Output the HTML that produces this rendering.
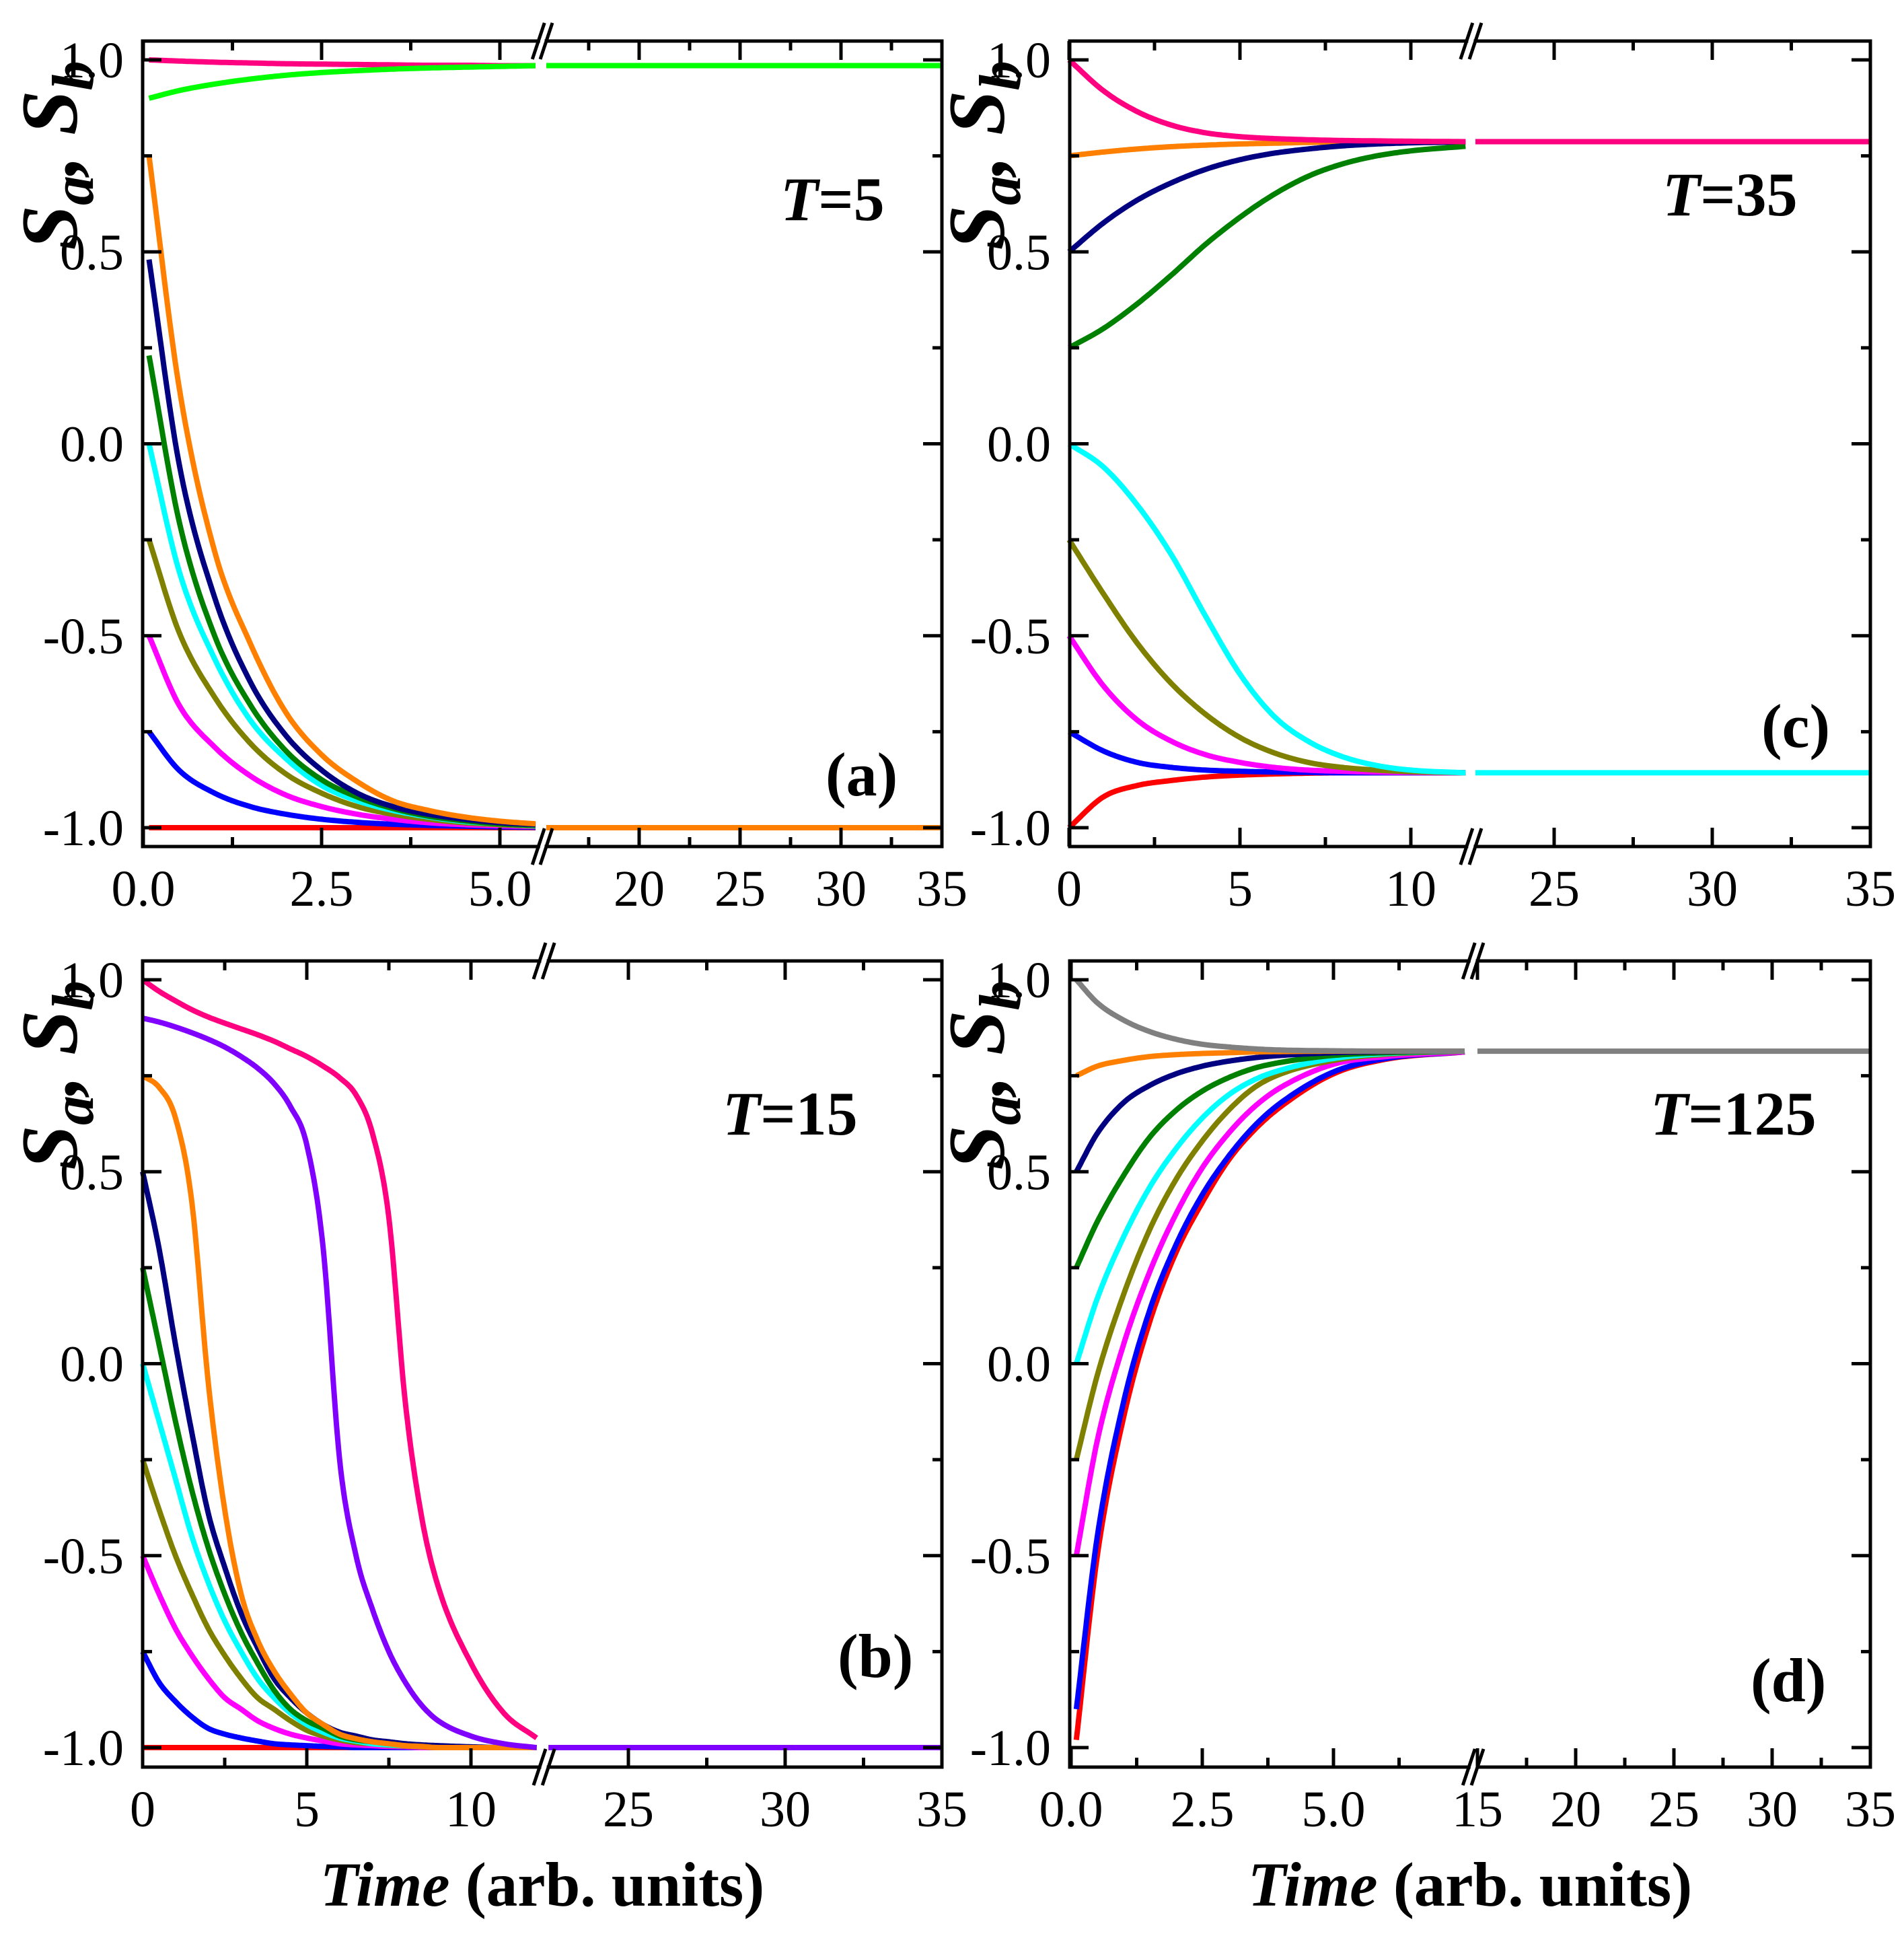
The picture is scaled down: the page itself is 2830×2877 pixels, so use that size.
<!DOCTYPE html>
<html><head><meta charset="utf-8"><title>Sa Sb relaxation</title>
<style>
html,body{margin:0;padding:0;background:#fff;}
svg{display:block;}
text{font-family:"Liberation Serif",serif;fill:#000;}
</style></head>
<body>
<svg id="fig" width="2830" height="2877" viewBox="0 0 2830 2877" xmlns="http://www.w3.org/2000/svg"></svg>
<script>
// ---------- DATA ----------
const yTickValues = [-1, -0.5, 0, 0.5, 1];
const yTickLabels = ['-1.0', '-0.5', '0.0', '0.5', '1.0'];
const yMinorTicks = [-0.75, -0.25, 0.25, 0.75];

// Panel (a) T=5
const aTimes = [0.08, 0.5, 1, 1.5, 2, 2.5, 3, 3.5, 4, 4.5, 5, 5.5];
const aRed = [-1, -1, -1, -1, -1, -1, -1, -1, -1, -1, -1, -1];
const aBlue = [-0.75, -0.85, -0.91, -0.945, -0.965, -0.978, -0.986, -0.991, -0.994, -0.996, -0.998, -0.999];
const aMagenta = [-0.5, -0.68, -0.79, -0.865, -0.915, -0.945, -0.965, -0.978, -0.987, -0.992, -0.995, -0.997];
const aOlive = [-0.25, -0.49, -0.66, -0.78, -0.86, -0.91, -0.945, -0.965, -0.978, -0.987, -0.992, -0.996];
const aCyan = [0.0, -0.33, -0.56, -0.72, -0.82, -0.89, -0.93, -0.955, -0.972, -0.984, -0.99, -0.995];
const aDkGreen = [0.23, -0.2, -0.5, -0.68, -0.8, -0.875, -0.92, -0.95, -0.97, -0.982, -0.99, -0.994];
const aNavy = [0.48, -0.05, -0.4, -0.62, -0.76, -0.85, -0.91, -0.945, -0.965, -0.978, -0.987, -0.992];
const aOrange = [0.75, 0.15, -0.28, -0.52, -0.7, -0.81, -0.88, -0.93, -0.955, -0.972, -0.983, -0.99];
const aPink = [1.0, 0.997, 0.994, 0.992, 0.99, 0.989, 0.988, 0.987, 0.986, 0.986, 0.985, 0.985];
const aGreen = [0.9, 0.92, 0.937, 0.95, 0.96, 0.967, 0.972, 0.976, 0.979, 0.981, 0.983, 0.985];
const aRightValues = [0.985, -1];
const aRightColors = ['green', 'orange'];

// Panel (b) T=15
const bTimes = [0, 0.5, 1, 1.5, 2, 2.5, 3, 3.5, 4, 4.5, 5, 5.5, 6, 6.5, 7, 7.5, 8, 8.5, 9, 10, 11, 12];
const bRed = [-1, -1, -1, -1, -1, -1, -1, -1, -1, -1, -1, -1, -1, -1, -1, -1, -1, -1, -1, -1, -1, -1];
const bBlue = [-0.75, -0.83, -0.88, -0.92, -0.95, -0.965, -0.975, -0.983, -0.99, -0.993, -0.995, -0.997, -0.998, -1, -1, -1, -1, -1, -1, -1, -1, -1];
const bMagenta = [-0.5, -0.6, -0.69, -0.76, -0.82, -0.87, -0.9, -0.93, -0.95, -0.965, -0.975, -0.983, -0.99, -0.993, -0.995, -0.997, -0.998, -1, -1, -1, -1, -1];
const bOlive = [-0.25, -0.38, -0.5, -0.6, -0.69, -0.76, -0.82, -0.87, -0.9, -0.93, -0.955, -0.97, -0.98, -0.987, -0.99, -0.994, -0.996, -0.998, -1, -1, -1, -1];
const bCyan = [0, -0.15, -0.3, -0.45, -0.57, -0.67, -0.75, -0.82, -0.87, -0.91, -0.94, -0.96, -0.975, -0.983, -0.99, -0.993, -0.995, -0.997, -0.998, -1, -1, -1];
const bDkGreen = [0.25, 0.05, -0.15, -0.33, -0.48, -0.6, -0.7, -0.78, -0.85, -0.9, -0.93, -0.95, -0.97, -0.98, -0.985, -0.99, -0.993, -0.995, -0.997, -1, -1, -1];
const bNavy = [0.5, 0.3, 0.05, -0.18, -0.39, -0.53, -0.65, -0.74, -0.82, -0.87, -0.91, -0.94, -0.96, -0.97, -0.98, -0.985, -0.99, -0.993, -0.995, -0.998, -1, -1];
const bOrange = [0.75, 0.72, 0.64, 0.42, -0.05, -0.38, -0.6, -0.72, -0.8, -0.86, -0.91, -0.94, -0.965, -0.977, -0.985, -0.99, -0.995, -0.997, -1, -1, -1, -1];
const bPink = [1, 0.97, 0.945, 0.922, 0.903, 0.887, 0.872, 0.857, 0.84, 0.82, 0.8, 0.775, 0.745, 0.7, 0.6, 0.38, -0.1, -0.4, -0.58, -0.78, -0.91, -0.975];
const bPurple = [0.9, 0.89, 0.877, 0.862, 0.845, 0.825, 0.8, 0.77, 0.73, 0.67, 0.57, 0.3, -0.25, -0.5, -0.64, -0.75, -0.83, -0.89, -0.93, -0.97, -0.99, -1];
const bRightValues = [-1];
const bRightColors = ['purple'];

// Panel (c) T=35
const cTimes = [0, 1, 2, 3, 4, 5, 6, 7, 8, 9, 10, 11.6];
const cOrange = [0.75, 0.76, 0.768, 0.774, 0.778, 0.781, 0.783, 0.785, 0.786, 0.787, 0.787, 0.787];
const cNavy = [0.5, 0.575, 0.635, 0.68, 0.715, 0.74, 0.757, 0.768, 0.776, 0.781, 0.784, 0.786];
const cDkGreen = [0.25, 0.3, 0.365, 0.44, 0.52, 0.59, 0.65, 0.697, 0.729, 0.75, 0.763, 0.775];
const cPink = [1, 0.92, 0.865, 0.83, 0.81, 0.8, 0.795, 0.792, 0.79, 0.789, 0.788, 0.787];
const cRed = [-1, -0.92, -0.89, -0.877, -0.868, -0.863, -0.86, -0.858, -0.857, -0.857, -0.857, -0.857];
const cBlue = [-0.75, -0.8, -0.83, -0.843, -0.85, -0.853, -0.855, -0.856, -0.857, -0.857, -0.857, -0.857];
const cMagenta = [-0.5, -0.63, -0.72, -0.775, -0.81, -0.83, -0.843, -0.85, -0.853, -0.855, -0.856, -0.857];
const cOlive = [-0.25, -0.39, -0.52, -0.625, -0.705, -0.765, -0.805, -0.83, -0.843, -0.85, -0.854, -0.857];
const cCyan = [0, -0.06, -0.16, -0.29, -0.45, -0.6, -0.71, -0.775, -0.815, -0.838, -0.85, -0.857];
const cRightValues = [0.787, -0.857];
const cRightColors = ['pink', 'cyan'];

// Panel (d) T=125
const dTimes = [0.1, 0.5, 1, 1.5, 2, 2.5, 3, 3.5, 4, 5, 6, 7.5];
const dRed = [-0.98, -0.5, -0.14, 0.11, 0.29, 0.42, 0.53, 0.61, 0.67, 0.755, 0.793, 0.812];
const dBlue = [-0.9, -0.45, -0.1, 0.14, 0.31, 0.44, 0.54, 0.62, 0.68, 0.76, 0.795, 0.812];
const dMagenta = [-0.5, -0.2, 0.05, 0.24, 0.39, 0.51, 0.6, 0.67, 0.72, 0.78, 0.8, 0.812];
const dOlive = [-0.25, -0.03, 0.18, 0.35, 0.48, 0.58, 0.66, 0.72, 0.755, 0.79, 0.806, 0.814];
const dCyan = [0, 0.17, 0.33, 0.46, 0.56, 0.64, 0.7, 0.74, 0.765, 0.795, 0.808, 0.814];
const dDkGreen = [0.25, 0.37, 0.49, 0.59, 0.66, 0.71, 0.745, 0.77, 0.785, 0.803, 0.81, 0.814];
const dNavy = [0.5, 0.6, 0.68, 0.725, 0.755, 0.775, 0.788, 0.797, 0.803, 0.81, 0.813, 0.814];
const dOrange = [0.75, 0.775, 0.79, 0.8, 0.805, 0.808, 0.81, 0.812, 0.813, 0.814, 0.814, 0.814];
const dGray = [1, 0.94, 0.895, 0.865, 0.845, 0.832, 0.825, 0.82, 0.817, 0.815, 0.814, 0.814];
const dRightValues = [0.814];
const dRightColors = ['gray'];

// x tick arrays
const aXMajor = [0, 2.5, 5, 20, 25, 30, 35];
const aXLabels = ['0.0', '2.5', '5.0', '20', '25', '30', '35'];
const aXMinor = [1.25, 3.75, 17.5, 22.5, 27.5, 32.5];
const bXMajor = [0, 5, 10, 25, 30, 35];
const bXLabels = ['0', '5', '10', '25', '30', '35'];
const bXMinor = [2.5, 7.5, 27.5, 32.5];
const cXMajor = [0, 5, 10, 25, 30, 35];
const cXLabels = ['0', '5', '10', '25', '30', '35'];
const cXMinor = [2.5, 7.5, 27.5, 32.5];
const dXMajor = [0, 2.5, 5, 15, 20, 25, 30, 35];
const dXLabels = ['0.0', '2.5', '5.0', '15', '20', '25', '30', '35'];
const dXMinor = [1.25, 3.75, 6.25, 17.5, 22.5, 27.5, 32.5];

// ---------- RENDER ----------
const NS = 'http://www.w3.org/2000/svg';
const svg = document.getElementById('fig');
function mk(tag, attrs, parent) {
  const e = document.createElementNS(NS, tag);
  for (const k in attrs) e.setAttribute(k, attrs[k]);
  (parent || svg).appendChild(e);
  return e;
}
const C = {red:'#ff0000', blue:'#0000ff', magenta:'#ff00ff', olive:'#808000', cyan:'#00ffff', dkgreen:'#008000', navy:'#000080', orange:'#ff8000', pink:'#ff0080', green:'#00ff00', purple:'#8000ff', gray:'#808080'};

const panels = [
  {id:'a', x0:212, x1:1400, y0:61, y1:1258, L:{t0:0, p0:213, k:106}, R:{t0:20, p0:950, k:30}, bL:5.54, bR:15.4,
   times:aTimes, major:aXMajor, labels:aXLabels, minor:aXMinor, T:'5', Tx:1160, Ty:327, lab:'(a)', lx:1227, ly:1182,
   rv:aRightValues, rc:aRightColors,
   series:[['red',aRed],['blue',aBlue],['magenta',aMagenta],['olive',aOlive],['cyan',aCyan],['dkgreen',aDkGreen],['navy',aNavy],['orange',aOrange],['pink',aPink],['green',aGreen]]},
  {id:'b', x0:212, x1:1400, y0:1428, y1:2626, L:{t0:0, p0:212, k:48.8}, R:{t0:25, p0:934, k:46.6}, bL:12.09, bR:22.45,
   times:bTimes, major:bXMajor, labels:bXLabels, minor:bXMinor, T:'15', Tx:1074, Ty:1686, lab:'(b)', lx:1245, ly:2492,
   rv:bRightValues, rc:bRightColors,
   series:[['red',bRed],['blue',bBlue],['magenta',bMagenta],['olive',bOlive],['cyan',bCyan],['dkgreen',bDkGreen],['navy',bNavy],['orange',bOrange],['pink',bPink],['purple',bPurple]]},
  {id:'c', x0:1590, x1:2780, y0:61, y1:1258, L:{t0:0, p0:1589, k:50.8}, R:{t0:25, p0:2310, k:47}, bL:11.63, bR:22.51,
   times:cTimes, major:cXMajor, labels:cXLabels, minor:cXMinor, T:'35', Tx:2471, Ty:320, lab:'(c)', lx:2618, ly:1110,
   rv:cRightValues, rc:cRightColors,
   series:[['red',cRed],['blue',cBlue],['magenta',cMagenta],['olive',cOlive],['cyan',cCyan],['orange',cOrange],['navy',cNavy],['dkgreen',cDkGreen],['pink',cPink]]},
  {id:'d', x0:1590, x1:2780, y0:1428, y1:2626, L:{t0:0, p0:1592, k:78}, R:{t0:15, p0:2196, k:29.2}, bL:7.58, bR:15,
   times:dTimes, major:dXMajor, labels:dXLabels, minor:dXMinor, T:'125', Tx:2453, Ty:1686, lab:'(d)', lx:2602, ly:2528,
   rv:dRightValues, rc:dRightColors,
   series:[['red',dRed],['blue',dBlue],['magenta',dMagenta],['olive',dOlive],['cyan',dCyan],['dkgreen',dDkGreen],['navy',dNavy],['orange',dOrange],['gray',dGray]]}
];

function monotone(xs, ys, n) {
  const m = xs.length, d = [], s = [];
  for (let i = 0; i < m - 1; i++) d.push((ys[i+1]-ys[i])/(xs[i+1]-xs[i]));
  s[0] = d[0]; s[m-1] = d[m-2];
  for (let i = 1; i < m - 1; i++) s[i] = (d[i-1]*d[i] <= 0) ? 0 : (d[i-1]+d[i])/2;
  for (let i = 0; i < m - 1; i++) {
    if (d[i] === 0) { s[i] = 0; s[i+1] = 0; continue; }
    const a = s[i]/d[i], b = s[i+1]/d[i], h = a*a + b*b;
    if (h > 9) { const t = 3/Math.sqrt(h); s[i] = t*a*d[i]; s[i+1] = t*b*d[i]; }
  }
  const out = [];
  for (let i = 0; i < m - 1; i++) {
    const h = xs[i+1]-xs[i];
    for (let j = 0; j < n; j++) {
      const u = j/n, h00 = 2*u*u*u-3*u*u+1, h10 = u*u*u-2*u*u+u, h01 = -2*u*u*u+3*u*u, h11 = u*u*u-u*u;
      out.push([xs[i]+u*h, h00*ys[i]+h10*h*s[i]+h01*ys[i+1]+h11*h*s[i+1]]);
    }
  }
  out.push([xs[m-1], ys[m-1]]);
  return out;
}

panels.forEach(p => {
  const g = mk('g', {});
  
  
  const yOf = v => p.y0 + 28 + (1 - v) / 2 * 1141;
  const xOf = t => t <= p.bL + 0.001 ? p.L.p0 + (t - p.L.t0) * p.L.k : p.R.p0 + (t - p.R.t0) * p.R.k;
  const xbL = xOf(p.bL), xbR = xOf(p.bR);

  // series
  const sg = mk('g', {}, g);
  
  
  p.series.forEach(([col, vals]) => {
    const pts = monotone(p.times, vals, 16);
    const d = pts.map((q, i) => (i ? 'L' : 'M') + xOf(q[0]).toFixed(1) + ' ' + yOf(q[1]).toFixed(1)).join(' ');
    const path = mk('path', {d: d, fill: 'none', stroke: C[col], 'stroke-width': 8, 'stroke-linejoin': 'round'}, sg);
    
    
  });
  p.rv.forEach((v, i) => {
    const ln = mk('line', {x1: xbR, y1: yOf(v), x2: xOf(35), y2: yOf(v), stroke: C[p.rc[i]], 'stroke-width': 8}, sg);
    
    
  });

  // frame
  const ax = mk('g', {stroke: '#000', 'stroke-width': 5, fill: 'none'}, g);
  
  
  mk('path', {d: `M${xbL} ${p.y0} L${p.x0} ${p.y0} L${p.x0} ${p.y1} L${xbL} ${p.y1} M${xbR} ${p.y0} L${p.x1} ${p.y0} L${p.x1} ${p.y1} L${xbR} ${p.y1}`, 'stroke-linecap': 'square'}, ax);
  yTickValues.forEach(v => { const y = yOf(v);
    mk('line', {x1: p.x0, y1: y, x2: p.x0 + 28, y2: y}, ax); mk('line', {x1: p.x1, y1: y, x2: p.x1 - 28, y2: y}, ax); });
  yMinorTicks.forEach(v => { const y = yOf(v);
    mk('line', {x1: p.x0, y1: y, x2: p.x0 + 14, y2: y}, ax); mk('line', {x1: p.x1, y1: y, x2: p.x1 - 14, y2: y}, ax); });
  p.major.forEach(t => { const x = xOf(t);
    mk('line', {x1: x, y1: p.y1, x2: x, y2: p.y1 - 28}, ax); mk('line', {x1: x, y1: p.y0, x2: x, y2: p.y0 + 28}, ax); });
  p.minor.forEach(t => { const x = xOf(t);
    mk('line', {x1: x, y1: p.y1, x2: x, y2: p.y1 - 14}, ax); mk('line', {x1: x, y1: p.y0, x2: x, y2: p.y0 + 14}, ax); });
  [p.y0, p.y1].forEach(yy => {
    [xbL, xbR].forEach(xx => mk('line', {x1: xx - 9, y1: yy + 27, x2: xx + 9, y2: yy - 27, 'stroke-width': 5}, ax));
  });

  // labels
  yTickValues.forEach((v, i) => {
    const t = mk('text', {x: p.x0 - 28, y: yOf(v) + 26, 'font-size': 76, 'text-anchor': 'end'}, g);
    t.textContent = yTickLabels[i];
    
    
  });
  p.major.forEach((v, i) => {
    const t = mk('text', {x: xOf(v), y: p.y1 + 88, 'font-size': 76, 'text-anchor': 'middle'}, g);
    t.textContent = p.labels[i];
    
    
  });
  const yt = mk('text', {transform: `translate(${p.x0 - 98},${p.y0 + 170}) rotate(-90)`, 'font-size': 120, 'font-weight': 'bold', 'font-style': 'italic', 'text-anchor': 'middle'}, g);
  yt.innerHTML = 'S<tspan font-size="88" dy="24">a</tspan><tspan dy="-24">, S</tspan><tspan font-size="88" dy="24">b</tspan>';
  
  
  const tl = mk('text', {x: p.Tx, y: p.Ty, 'font-size': 92, 'font-weight': 'bold'}, g);
  tl.innerHTML = '<tspan font-style="italic">T</tspan>=' + p.T;
  
  
  const pl = mk('text', {x: p.lx, y: p.ly, 'font-size': 92, 'font-weight': 'bold'}, g);
  pl.textContent = p.lab;
  
  
  if (p.id === 'b' || p.id === 'd') {
    const xt = mk('text', {x: (p.x0 + p.x1) / 2, y: 2832, 'font-size': 93, 'font-weight': 'bold', 'text-anchor': 'middle'}, g);
    xt.innerHTML = '<tspan font-style="italic">Time</tspan> (arb. units)';
    
    
  }
});
</script>
</body></html>
